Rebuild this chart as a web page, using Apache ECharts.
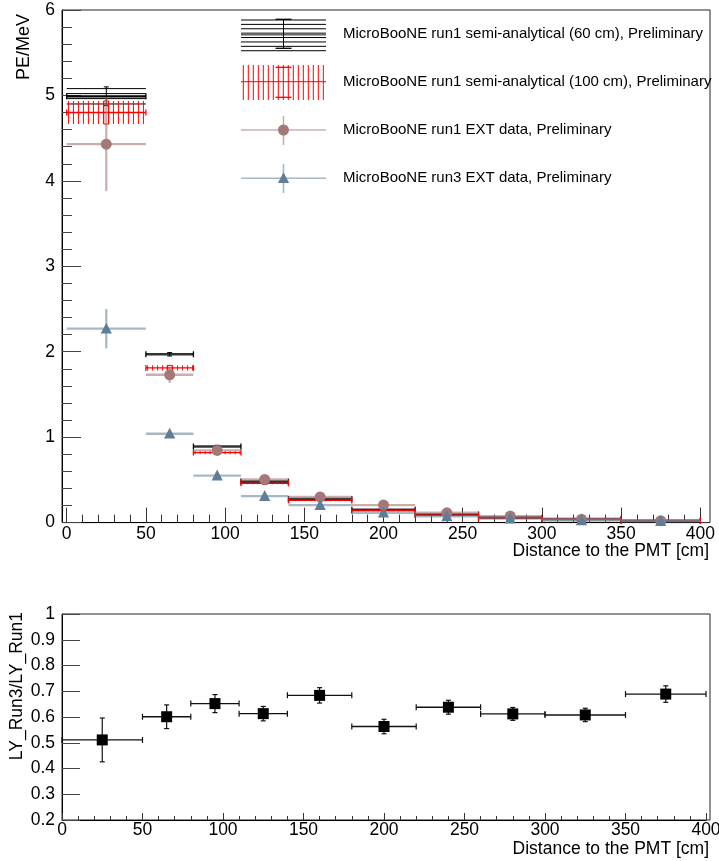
<!DOCTYPE html>
<html>
<head>
<meta charset="utf-8">
<script src="https://cdn.jsdelivr.net/npm/echarts@6/dist/echarts.min.js"></script>
<style>
html, body { margin: 0; padding: 0; background: #fff; }
#main { width: 719px; height: 861px; }
</style>
</head>
<body>
<div id="main"></div>
<script>
// distance bins [cm]
var binLow = [0, 50, 80, 110, 140, 180, 220, 260, 300, 350];
var binHigh = [50, 80, 110, 140, 180, 220, 260, 300, 350, 400];
var binCenter = [25, 65, 95, 125, 160, 200, 240, 280, 325, 375];

// semi-analytical (60 cm): value, hatched band half width, error
var sa60 = [4.99, 1.97, 0.89, 0.48, 0.275, 0.15, 0.095, 0.058, 0.042, 0.022];
var sa60Band = [0.09, 0.01, 0.01, 0.008, 0.006, 0.004, 0.003, 0.002, 0.002, 0.001];
var sa60Err = [0.11, 0.02, 0.015, 0.01, 0.008, 0.006, 0.004, 0.003, 0.002, 0.002];

// semi-analytical (100 cm)
var sa100 = [4.80, 1.81, 0.82, 0.46, 0.26, 0.14, 0.088, 0.054, 0.038, 0.02];
var sa100Band = [0.135, 0.03, 0.02, 0.012, 0.01, 0.008, 0.006, 0.004, 0.003, 0.002];
var sa100Err = [0.135, 0.03, 0.02, 0.012, 0.01, 0.008, 0.006, 0.004, 0.003, 0.002];

// EXT data
var run1 = [4.43, 1.73, 0.845, 0.505, 0.30, 0.205, 0.115, 0.076, 0.04, 0.022];
var run1Err = [0.55, 0.095, 0.03, 0.02, 0.015, 0.01, 0.008, 0.006, 0.004, 0.003];
var run3 = [2.27, 1.04, 0.55, 0.31, 0.205, 0.115, 0.073, 0.047, 0.024, 0.015];
var run3Err = [0.23, 0.02, 0.015, 0.01, 0.008, 0.006, 0.005, 0.004, 0.003, 0.002];

// ratio run3 / run1
var ratio = [0.511, 0.601, 0.652, 0.613, 0.684, 0.563, 0.638, 0.612, 0.608, 0.689];
var ratioErr = [0.085, 0.046, 0.035, 0.028, 0.03, 0.028, 0.027, 0.025, 0.026, 0.032];

var legendNames = [
    'MicroBooNE run1 semi-analytical (60 cm), Preliminary',
    'MicroBooNE run1 semi-analytical (100 cm), Preliminary',
    'MicroBooNE run1 EXT data, Preliminary',
    'MicroBooNE run3 EXT data, Preliminary'
];

var FONT = 'Liberation Sans, Arial, Helvetica, sans-serif';
var ROSE = '#a57878', ROSE_LINE = 'rgba(165,120,120,0.6)';
var BLUE = '#5f7d96', BLUE_LINE = 'rgba(95,125,150,0.55)';

function rows(vals, band, err) {
    return vals.map(function (v, i) {
        return [binLow[i], binHigh[i], binCenter[i], v, band ? band[i] : 0, err[i]];
    });
}

function seg(x1, y1, x2, y2, color, w) {
    return {type: 'line', shape: {x1: x1, y1: y1, x2: x2, y2: y2},
            style: {stroke: color, lineWidth: w || 1}};
}

function geom(api) {
    var c = api.value(2), v = api.value(3), b = api.value(4), e = api.value(5);
    return {
        xl: api.coord([api.value(0), v])[0],
        xr: api.coord([api.value(1), v])[0],
        xc: api.coord([c, v])[0],
        yv: api.coord([c, v])[1],
        yt: api.coord([c, v + b])[1],
        yb: api.coord([c, v - b])[1],
        et: api.coord([c, v + e])[1],
        eb: api.coord([c, v - e])[1]
    };
}

// hatched prediction bands
function renderBand(horizontal, color) {
    return function (params, api) {
        var g = geom(api), ch = [], k;
        if (horizontal) {
            if (g.yb - g.yt > 3) {
                for (k = g.yt; k < g.yb - 1; k += 5) ch.push(seg(g.xl, k, g.xr, k, color, 1));
                ch.push(seg(g.xl, g.yb, g.xr, g.yb, color, 1));
                ch.push(seg(g.xl, g.yv, g.xr, g.yv, color, 2.2));
            } else {
                ch.push(seg(g.xl, g.yv, g.xr, g.yv, '#333', 2.6));
            }
            ch.push(seg(g.xc, g.et, g.xc, g.eb, color, 1));
            ch.push(seg(g.xc - 2.5, g.et, g.xc + 2.5, g.et, color, 1));
            ch.push(seg(g.xc - 2.5, g.eb, g.xc + 2.5, g.eb, color, 1));
        } else {
            for (k = g.xl + 1.7; k < g.xr; k += 5) ch.push(seg(k, g.yt, k, g.yb, color, 1));
            ch.push(seg(g.xl, g.yv, g.xr, g.yv, color, 1.3));
            ch.push({type: 'rect', shape: {x: g.xc - 2.5, y: g.et, width: 5, height: g.eb - g.et},
                     style: {fill: 'none', stroke: color, lineWidth: 1}});
        }
        ch.push(seg(g.xl, g.yv - 3, g.xl, g.yv + 3, color, 1.3));
        ch.push(seg(g.xr, g.yv - 3, g.xr, g.yv + 3, color, 1.3));
        return {type: 'group', children: ch};
    };
}

function triangle(x, y, color) {
    return {type: 'polygon', shape: {points: [[x, y - 6], [x - 5.6, y + 4.8], [x + 5.6, y + 4.8]]},
            style: {fill: color}};
}

// data points with x and y error bars
function renderPoint(shape, color, lineColor) {
    return function (params, api) {
        var g = geom(api);
        var ch = [seg(g.xl, g.yv, g.xr, g.yv, lineColor, 2.4), seg(g.xc, g.et, g.xc, g.eb, lineColor, 2.2)];
        if (shape === 'circle') ch.push({type: 'circle', shape: {cx: g.xc, cy: g.yv, r: 5.5}, style: {fill: color}});
        else ch.push(triangle(g.xc, g.yv, color));
        return {type: 'group', children: ch};
    };
}

function renderRatio(params, api) {
    var g = geom(api), c = '#111';
    return {type: 'group', children: [
        seg(g.xl, g.yv, g.xr, g.yv, c, 1.4),
        seg(g.xl, g.yv - 3, g.xl, g.yv + 3, c, 1.2),
        seg(g.xr, g.yv - 3, g.xr, g.yv + 3, c, 1.2),
        seg(g.xc, g.et, g.xc, g.eb, c, 1.2),
        seg(g.xc - 2.5, g.et, g.xc + 2.5, g.et, c, 1.2),
        seg(g.xc - 2.5, g.eb, g.xc + 2.5, g.eb, c, 1.2),
        {type: 'rect', shape: {x: g.xc - 5.5, y: g.yv - 5.5, width: 11, height: 11}, style: {fill: '#000'}}
    ]};
}

// legend glyphs
function legendGraphics() {
    var rowsY = [34.3, 81.7, 130, 178.3];
    var x0 = 241, x1 = 326, xc = 283.5, els = [], k;
    for (k = 0; k < 8; k++) els.push(seg(x0, 20 + k * 4.39, x1, 20 + k * 4.39, '#000', 1));
    els.push(seg(x0, rowsY[0], x1, rowsY[0], '#666', 2.5));
    els.push(seg(xc, 19.3, xc, 48.3, '#000', 1));
    els.push(seg(xc - 8, 19.3, xc + 8, 19.3, '#000', 1.3));
    els.push(seg(xc - 8, 48.3, xc + 8, 48.3, '#000', 1.3));

    for (k = 0; k < 17; k++) els.push(seg(243.3 + k * 5, 65, 243.3 + k * 5, 100, '#ff0000', 1));
    els.push(seg(x0, rowsY[1], x1, rowsY[1], '#ff0000', 1));
    els.push(seg(xc - 8, 67.3, xc + 8, 67.3, '#ff0000', 1.3));
    els.push(seg(xc - 8, 97.3, xc + 8, 97.3, '#ff0000', 1.3));

    els.push(seg(x0, rowsY[2], x1, rowsY[2], ROSE_LINE, 1.6));
    els.push(seg(xc, 116, xc, 145, ROSE_LINE, 1.6));
    els.push({type: 'circle', shape: {cx: xc, cy: rowsY[2], r: 5.5}, style: {fill: ROSE}});

    els.push(seg(x0, rowsY[3], x1, rowsY[3], BLUE_LINE, 1.6));
    els.push(seg(xc, 164, xc, 193, BLUE_LINE, 1.6));
    els.push(triangle(xc, rowsY[3], BLUE));

    legendNames.forEach(function (name, i) {
        els.push({type: 'text', x: 343, y: rowsY[i],
                  style: {text: name, fill: '#000', font: '15px ' + FONT, textVerticalAlign: 'middle'}});
    });
    return els;
}

function axisTitles() {
    return [
        {type: 'text', x: 24, y: 14, rotation: Math.PI / 2,
         style: {text: 'PE/MeV', fill: '#000', font: '18px ' + FONT, textAlign: 'right', textVerticalAlign: 'middle'}},
        {type: 'text', x: 709, y: 551.5,
         style: {text: 'Distance to the PMT [cm]', fill: '#000', font: '17.5px ' + FONT, textAlign: 'right', textVerticalAlign: 'middle'}},
        {type: 'text', x: 17, y: 612, rotation: Math.PI / 2,
         style: {text: 'LY_Run3/LY_Run1', fill: '#000', font: '17.5px ' + FONT, textAlign: 'right', textVerticalAlign: 'middle'}},
        {type: 'text', x: 709, y: 849,
         style: {text: 'Distance to the PMT [cm]', fill: '#000', font: '17.5px ' + FONT, textAlign: 'right', textVerticalAlign: 'middle'}}
    ];
}

function hiddenAxis(grid, min, max) {
    return {type: 'value', gridIndex: grid, show: false, min: min, max: max};
}

function xAxisVisible(grid, tickLen, minorLen, margin) {
    return {
        type: 'value', gridIndex: grid, min: 0, max: 400, interval: 50,
        axisLine: {show: true, lineStyle: {color: '#000', width: 1}},
        axisTick: {show: true, inside: true, length: tickLen, lineStyle: {color: '#333', width: 1}},
        minorTick: {show: true, splitNumber: 5, length: minorLen, lineStyle: {color: '#333', width: 1}},
        axisLabel: {margin: margin, fontSize: 17.5, fontFamily: FONT, color: '#000'},
        splitLine: {show: false}, minorSplitLine: {show: false}
    };
}

var myChart = echarts.init(document.getElementById('main'));

var option = {
    animation: false,
    backgroundColor: '#fff',
    grid: [
        {left: 62, right: 9, top: 10, bottom: 338.4, show: true, borderColor: '#222', borderWidth: 1,
         backgroundColor: 'transparent', containLabel: false, outerBoundsMode: 'none'},
        {left: 66.7, right: 18.7, top: 10, bottom: 338.4, containLabel: false, outerBoundsMode: 'none'},
        {left: 62, right: 9, top: 614, bottom: 41, show: true, borderColor: '#222', borderWidth: 1,
         backgroundColor: 'transparent', containLabel: false, outerBoundsMode: 'none'},
        {left: 62, right: 13, top: 614, bottom: 41, containLabel: false, outerBoundsMode: 'none'}
    ],
    xAxis: [
        hiddenAxis(0, 0, 1),
        xAxisVisible(1, 15, 8, 3),
        hiddenAxis(2, 0, 1),
        xAxisVisible(3, 7, 4, 1)
    ],
    yAxis: [
        {
            type: 'value', gridIndex: 0, min: 0, max: 6, interval: 1,
            axisLine: {show: true, lineStyle: {color: '#000', width: 1}},
            axisTick: {show: true, inside: true, length: 19, lineStyle: {color: '#444', width: 1}},
            minorTick: {show: true, splitNumber: 5, length: 10, lineStyle: {color: '#444', width: 1}},
            axisLabel: {margin: 7, fontSize: 17.5, fontFamily: FONT, color: '#000'},
            splitLine: {show: false}, minorSplitLine: {show: false}
        },
        hiddenAxis(1, 0, 6),
        {
            type: 'value', gridIndex: 2, min: 0.2, max: 1, interval: 0.1,
            axisLine: {show: true, lineStyle: {color: '#000', width: 1}},
            axisTick: {show: true, inside: true, length: 18, lineStyle: {color: '#444', width: 1}},
            axisLabel: {margin: 7, fontSize: 17.5, fontFamily: FONT, color: '#000'},
            splitLine: {show: false}
        },
        hiddenAxis(3, 0.2, 1)
    ],
    graphic: {elements: legendGraphics().concat(axisTitles())},
    series: [
        {type: 'custom', name: legendNames[0], xAxisIndex: 1, yAxisIndex: 1,
         renderItem: renderBand(true, '#000'), data: rows(sa60, sa60Band, sa60Err)},
        {type: 'custom', name: legendNames[1], xAxisIndex: 1, yAxisIndex: 1,
         renderItem: renderBand(false, '#ff0000'), data: rows(sa100, sa100Band, sa100Err)},
        {type: 'custom', name: legendNames[2], xAxisIndex: 1, yAxisIndex: 1,
         renderItem: renderPoint('circle', ROSE, ROSE_LINE), data: rows(run1, null, run1Err)},
        {type: 'custom', name: legendNames[3], xAxisIndex: 1, yAxisIndex: 1,
         renderItem: renderPoint('triangle', BLUE, BLUE_LINE), data: rows(run3, null, run3Err)},
        {type: 'custom', name: 'ratio', xAxisIndex: 3, yAxisIndex: 3,
         renderItem: renderRatio, data: rows(ratio, null, ratioErr)}
    ]
};

myChart.setOption(option);
</script>
</body>
</html>
